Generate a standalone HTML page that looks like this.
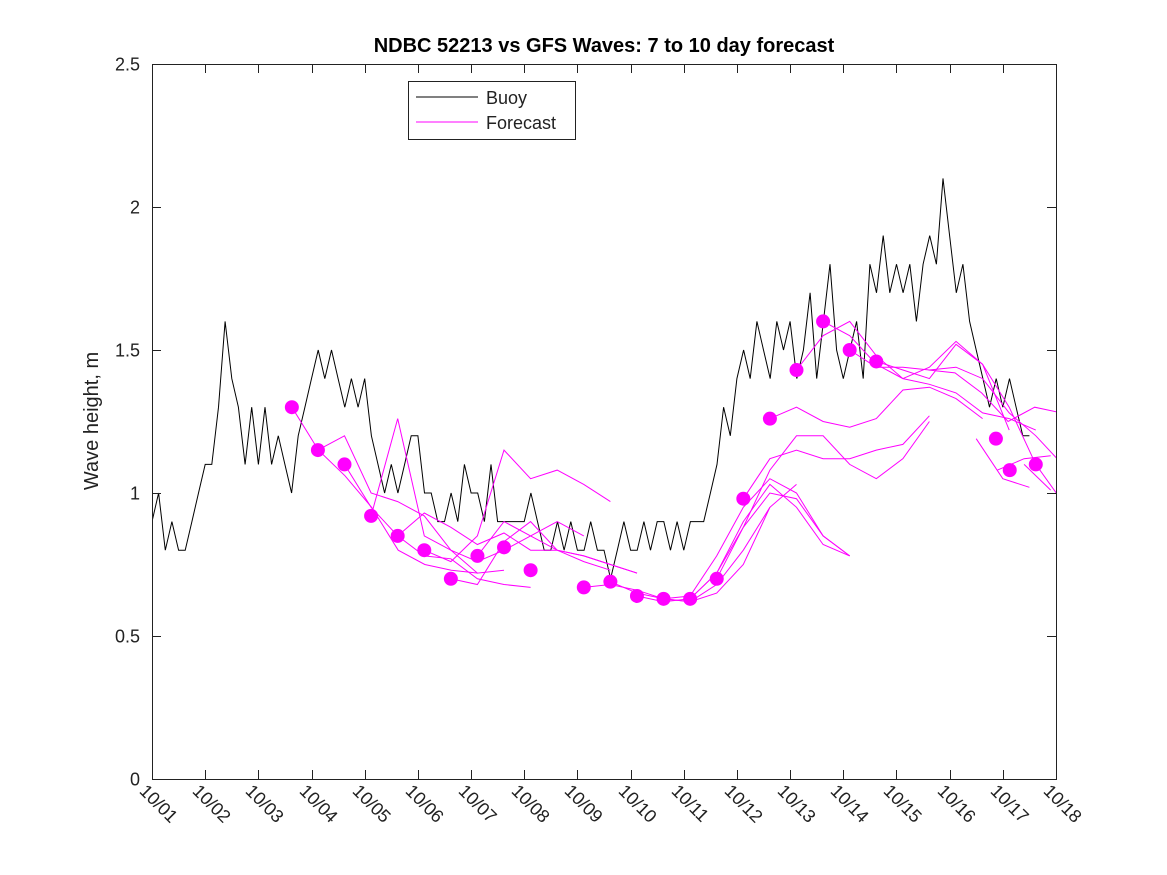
<!DOCTYPE html>
<html><head><meta charset="utf-8">
<style>
body{margin:0;background:#fff;}
svg{display:block;font-family:"Liberation Sans","DejaVu Sans",sans-serif;}
</style></head>
<body>
<svg id="chart" width="1167" height="875" viewBox="0 0 1167 875">
<defs><clipPath id="pc"><rect x="152" y="64" width="904" height="715"/></clipPath></defs>
<rect x="0" y="0" width="1167" height="875" fill="#fff"/>
<text x="604" y="52" text-anchor="middle" font-size="20" font-weight="bold" fill="#000">NDBC 52213 vs GFS Waves: 7 to 10 day forecast</text>
<text transform="translate(98,421) rotate(-90)" text-anchor="middle" font-size="20" fill="#222">Wave height, m</text>
<g id="plot" clip-path="url(#pc)"></g>
<g id="axes"></g>
<g>
<rect x="408.5" y="81.5" width="167" height="58" fill="#fff" stroke="#222" stroke-width="1"/>
<line x1="416" y1="97" x2="478" y2="97" stroke="#000" stroke-width="1"/>
<text x="486" y="104" font-size="18" fill="#222">Buoy</text>
<line x1="416" y1="122" x2="478" y2="122" stroke="#f0f" stroke-width="1"/>
<text x="486" y="129" font-size="18" fill="#222">Forecast</text>
</g>
</svg>
<script>
const xTickLabels=["10/01","10/02","10/03","10/04","10/05","10/06","10/07","10/08","10/09","10/10","10/11","10/12","10/13","10/14","10/15","10/16","10/17","10/18"];
const yTicks=[0,0.5,1,1.5,2,2.5];
const yTickLabels=["0","0.5","1","1.5","2","2.5"];
const buoyStep=0.125;
const buoyValues=[
0.9,1.0, 0.8,0.9, 0.8,0.8, 0.9,1.0, 1.1,1.1, 1.3,1.6, 1.4,1.3, 1.1,1.3,
1.1,1.3, 1.1,1.2, 1.1,1.0, 1.2,1.3, 1.4,1.5, 1.4,1.5, 1.4,1.3, 1.4,1.3,
1.4,1.2, 1.1,1.0, 1.1,1.0, 1.1,1.2, 1.2,1.0, 1.0,0.9, 0.9,1.0, 0.9,1.1,
1.0,1.0, 0.9,1.1, 0.9,0.9, 0.9,0.9, 0.9,1.0, 0.9,0.8, 0.8,0.9, 0.8,0.9,
0.8,0.8, 0.9,0.8, 0.8,0.7, 0.8,0.9, 0.8,0.8, 0.9,0.8, 0.9,0.9, 0.8,0.9,
0.8,0.9, 0.9,0.9, 1.0,1.1, 1.3,1.2, 1.4,1.5, 1.4,1.6, 1.5,1.4, 1.6,1.5,
1.6,1.4, 1.5,1.7, 1.4,1.6, 1.8,1.5, 1.4,1.5, 1.6,1.4, 1.8,1.7, 1.9,1.7,
1.8,1.7, 1.8,1.6, 1.8,1.9, 1.8,2.1, 1.9,1.7, 1.8,1.6, 1.5,1.4, 1.3,1.4,
1.3,1.4, 1.3,1.2, 1.2];
const forecastStarts=[2.63,3.12,3.62,4.12,4.62,5.12,5.62,6.12,8.12,8.62,9.12,9.62,10.12,10.62,11.12,11.62,12.12,12.62,13.12,13.62,14.6,15.5,15.9,16.4];
const forecastValues=[
[1.30,1.15,1.06,0.95,0.80,0.75,0.73,0.72],
[1.15,1.20,1.00,0.97,0.92,0.80,0.72,0.73],
[1.10,0.95,0.85,0.78,0.77,0.70,0.68,0.67],
[0.92,1.26,0.85,0.80,0.76,0.80,0.85,0.90,0.85],
[0.85,0.93,0.88,0.82,0.86,0.80,0.80,0.76,0.73],
[0.80,0.76,0.85,1.15,1.05,1.08,1.03,0.97],
[0.70,0.68,0.83,0.90,0.80,0.78,0.75,0.72],
[0.78,0.90,0.85,0.80,0.78,0.75,0.72],
[0.67,0.68,0.66,0.63,0.62,0.65,0.75,0.95],
[0.69,0.65,0.63,0.62,0.68,0.80,0.95,1.03],
[0.64,0.62,0.63,0.72,0.88,1.00,0.98,0.85,0.78],
[0.63,0.64,0.78,0.95,1.05,1.00,0.85,0.78],
[0.63,0.72,0.90,1.03,0.95,0.82,0.78],
[0.70,0.88,1.08,1.20,1.20,1.10,1.05,1.12,1.25],
[0.98,1.12,1.15,1.12,1.12,1.15,1.17,1.27],
[1.26,1.30,1.25,1.23,1.26,1.36,1.37,1.33,1.26],
[1.43,1.55,1.60,1.48,1.40,1.44,1.53,1.45,1.22],
[1.60,1.55,1.45,1.40,1.38,1.35,1.28,1.26,1.22],
[1.50,1.44,1.44,1.43,1.44,1.40,1.28,1.20,1.10],
[1.46,1.43,1.40,1.52,1.45,1.30,1.10,0.97],
[1.43,1.42,1.35,1.25,1.30,1.28,1.01],
[1.19,1.05,1.02],
[1.08,1.12,1.13],
[1.10,1.01]
];
const dotStarts=[2.63,3.12,3.62,4.12,4.62,5.12,5.62,6.12,6.62,7.12,8.12,8.62,9.12,9.62,10.12,10.62,11.12,11.62,12.12,12.62,13.12,13.62,15.87,16.13,16.62];
const dotValues=[1.30,1.15,1.10,0.92,0.85,0.80,0.70,0.78,0.81,0.73,0.67,0.69,0.64,0.63,0.63,0.70,0.98,1.26,1.43,1.60,1.50,1.46,1.19,1.08,1.10];

const X0=152,X1=1056,Y0=779,Y1=64;
const xs=d=>X0+(X1-X0)*d/17;
const ys=v=>Y0-(Y0-Y1)*v/2.5;
const NS="http://www.w3.org/2000/svg";
const plot=document.getElementById('plot'),axes=document.getElementById('axes');
function mk(tag,parent){const e=document.createElementNS(NS,tag);parent.appendChild(e);return e;}

const bg=mk('rect',plot);
bg.setAttribute('x',X0);bg.setAttribute('y',Y1);bg.setAttribute('width',X1-X0);bg.setAttribute('height',Y0-Y1);bg.setAttribute('fill','#fff');



let pts=buoyValues.map((v,i)=>xs(i*buoyStep).toFixed(1)+','+ys(v).toFixed(1)).join(' ');
const bl=mk('polyline',plot);
bl.setAttribute('points',pts);bl.setAttribute('fill','none');bl.setAttribute('stroke','#000');bl.setAttribute('stroke-width','1');



forecastValues.forEach((arr,k)=>{
  const p=arr.map((v,i)=>xs(forecastStarts[k]+i*0.5).toFixed(1)+','+ys(v).toFixed(1)).join(' ');
  const l=mk('polyline',plot);
  l.setAttribute('points',p);l.setAttribute('fill','none');l.setAttribute('stroke','#f0f');l.setAttribute('stroke-width','1');
  
  
});
dotValues.forEach((v,i)=>{
  const c=mk('circle',plot);
  c.setAttribute('cx',xs(dotStarts[i]));c.setAttribute('cy',ys(v));c.setAttribute('r','7');c.setAttribute('fill','#f0f');
  
  
});

const box=mk('rect',axes);
box.setAttribute('x',X0+0.5);box.setAttribute('y',Y1+0.5);box.setAttribute('width',X1-X0);box.setAttribute('height',Y0-Y1);
box.setAttribute('fill','none');box.setAttribute('stroke','#222');box.setAttribute('stroke-width','1');



yTicks.forEach((v,i)=>{
  const y=Math.round(ys(v))+0.5;
  const t1=mk('line',axes);t1.setAttribute('x1',X0);t1.setAttribute('x2',X0+9);t1.setAttribute('y1',y);t1.setAttribute('y2',y);t1.setAttribute('stroke','#222');
  
  
  const t2=mk('line',axes);t2.setAttribute('x1',X1-9);t2.setAttribute('x2',X1);t2.setAttribute('y1',y);t2.setAttribute('y2',y);t2.setAttribute('stroke','#222');
  
  
  const tx=mk('text',axes);tx.setAttribute('x',X0-12);tx.setAttribute('y',y+6);tx.setAttribute('text-anchor','end');tx.setAttribute('font-size','18');tx.setAttribute('fill','#222');
  tx.textContent=yTickLabels[i];
  
  
});
xTickLabels.forEach((lab,i)=>{
  const x=Math.round(xs(i))+0.5;
  const t1=mk('line',axes);t1.setAttribute('x1',x);t1.setAttribute('x2',x);t1.setAttribute('y1',Y0-9);t1.setAttribute('y2',Y0);t1.setAttribute('stroke','#222');
  
  
  const t2=mk('line',axes);t2.setAttribute('x1',x);t2.setAttribute('x2',x);t2.setAttribute('y1',Y1);t2.setAttribute('y2',Y1+9);t2.setAttribute('stroke','#222');
  
  
  const tx=mk('text',axes);
  tx.setAttribute('transform','translate('+(x-14)+','+(Y0+13)+') rotate(45)');
  tx.setAttribute('font-size','18');tx.setAttribute('fill','#222');
  tx.textContent=lab;
  
  
});
</script>
</body></html>
